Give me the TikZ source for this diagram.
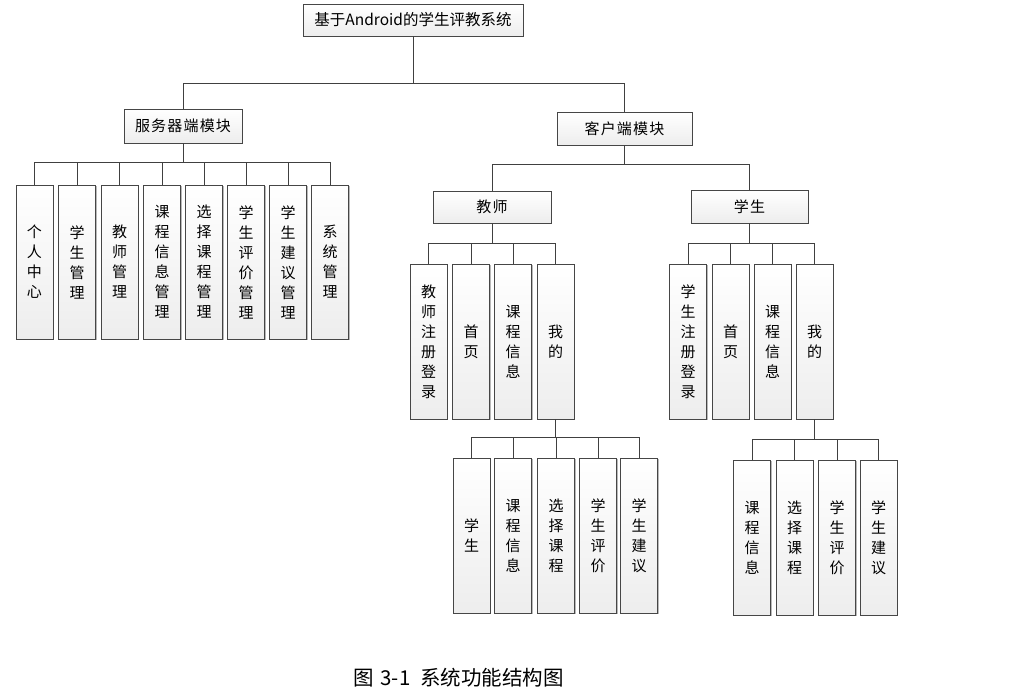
\documentclass[tikz,border=0pt]{standalone}
\usepackage{fontspec}
\setmainfont{Noto Sans CJK SC}
\newfontfamily\spacedcjk[LetterSpace=8]{Noto Sans CJK SC}
\usetikzlibrary{shadows}
\tikzset{
  box/.style={draw=gray!55!black, line width=0.9pt, top color=white, bottom color=gray!14,
    inner sep=0pt, align=center, font=\fontsize{15}{20}\selectfont,
    drop shadow={shadow xshift=1.3pt, shadow yshift=-1.3pt, fill=gray!55, opacity=1}},
  hbox/.style={box, font=\spacedcjk\fontsize{15}{20}\selectfont},
  conn/.style={draw=gray!50!black, line width=1pt},
}
\begin{document}
\begin{tikzpicture}[x=1pt,y=-1pt]
\useasboundingbox (0,0) rectangle (1033,690);
% top levels
\node[box, minimum width=220, minimum height=32, font=\fontsize{15.5}{20}\selectfont] (top) at (413,20) {基于Android的学生评教系统};
\node[hbox, minimum width=118, minimum height=34] (server) at (183,126) {服务器端模块};
\node[hbox, minimum width=135, minimum height=33] (client) at (624.5,128.5) {客户端模块};
\node[hbox, minimum width=118, minimum height=32] (teacher) at (492,207) {教师};
\node[hbox, minimum width=117, minimum height=33] (student) at (749.5,206.5) {学生};
% server children
\foreach \x/\t [count=\i] in {34.5/{个\\人\\中\\心}, 77/{学\\生\\管\\理}, 119.5/{教\\师\\管\\理},
  162/{课\\程\\信\\息\\管\\理}, 204/{选\\择\\课\\程\\管\\理}, 246/{学\\生\\评\\价\\管\\理},
  288/{学\\生\\建\\议\\管\\理}, 330/{系\\统\\管\\理}}
  \node[box, minimum width=37, minimum height=154] (s\i) at (\x,262) {\t};
% teacher children
\foreach \x/\t [count=\i] in {428.5/{教\\师\\注\\册\\登\\录}, 471/{首\\页}, 513/{课\\程\\信\\息}, 555.5/{我\\的}}
  \node[box, minimum width=37, minimum height=155] (t\i) at (\x,341.5) {\t};
% student children
\foreach \x/\t [count=\i] in {688/{学\\生\\注\\册\\登\\录}, 730.5/{首\\页}, 772.5/{课\\程\\信\\息}, 814.5/{我\\的}}
  \node[box, minimum width=37, minimum height=155] (u\i) at (\x,341.5) {\t};
% teacher "my" children
\foreach \x/\t [count=\i] in {471.5/{学\\生}, 513/{课\\程\\信\\息}, 556/{选\\择\\课\\程}, 598/{学\\生\\评\\价}, 639/{学\\生\\建\\议}}
  \node[box, minimum width=37, minimum height=155] (tm\i) at (\x,535.5) {\t};
% student "my" children
\foreach \x/\t [count=\i] in {752/{课\\程\\信\\息}, 794.5/{选\\择\\课\\程}, 837/{学\\生\\评\\价}, 878.5/{学\\生\\建\\议}}
  \node[box, minimum width=37, minimum height=155] (um\i) at (\x,537.5) {\t};
% bus coordinates
\coordinate (b0) at (413,84);
\coordinate (b1) at (183,162);
\coordinate (b2) at (624.5,164);
\coordinate (b3) at (492,243);
\coordinate (b4) at (749.5,243);
\coordinate (b5) at (555.5,437);
\coordinate (b6) at (814.5,439);
% connectors
\draw[conn] (top.south) -- (b0) -| (server.north);
\draw[conn] (b0) -| (client.north);
\draw[conn] (server.south) -- (b1);
\foreach \i in {1,...,8} \draw[conn] (b1) -| (s\i.north);
\draw[conn] (client.south) -- (b2) -| (teacher.north);
\draw[conn] (b2) -| (student.north);
\draw[conn] (teacher.south) -- (b3);
\foreach \i in {1,...,4} \draw[conn] (b3) -| (t\i.north);
\draw[conn] (student.south) -- (b4);
\foreach \i in {1,...,4} \draw[conn] (b4) -| (u\i.north);
\draw[conn] (t4.south) -- (b5);
\foreach \i in {1,...,5} \draw[conn] (b5) -| (tm\i.north);
\draw[conn] (u4.south) -- (b6);
\foreach \i in {1,...,4} \draw[conn] (b6) -| (um\i.north);
% caption
\node[font=\fontsize{20.5}{24}\selectfont, inner sep=0pt] (cap) at (458.5,678) {图\hspace{7pt}3-1\hspace{10pt}系统功能结构图};
\end{tikzpicture}
\end{document}
